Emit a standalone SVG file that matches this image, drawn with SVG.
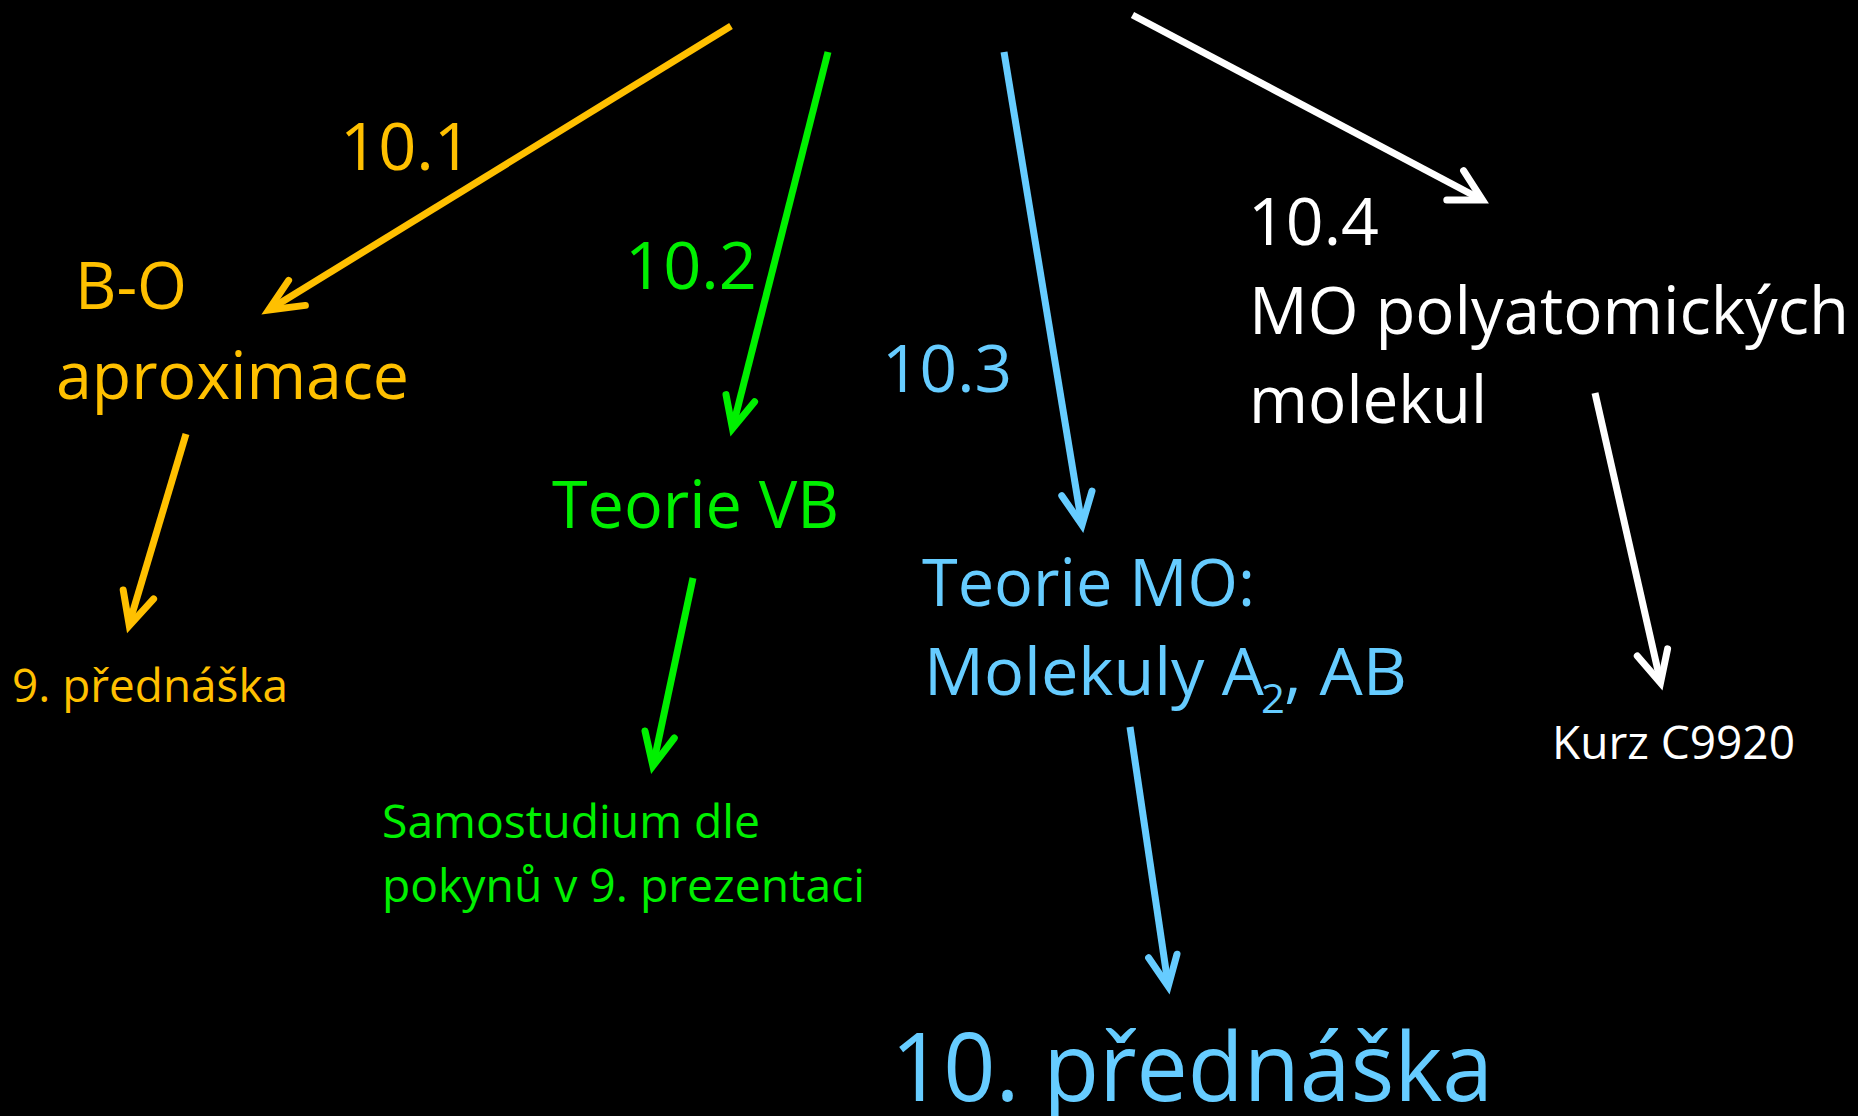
<svg xmlns="http://www.w3.org/2000/svg" width="1858" height="1116" viewBox="0 0 1858 1116">
<style>
text{font-family:"Open Sans","Noto Sans","DejaVu Sans",sans-serif;}
.y{fill:#FFC000}.g{fill:#00F000}.b{fill:#66CCFF}.w{fill:#FFFFFF}
.ly{stroke:#FFC000}.lg{stroke:#00F000}.lb{stroke:#66CCFF}.lw{stroke:#FFFFFF}
.ln{fill:none;stroke-width:7;stroke-linecap:butt}
.hd{fill:none;stroke-width:7;stroke-linecap:round;stroke-linejoin:miter;stroke-miterlimit:10}
</style>
<rect x="0" y="0" width="1858" height="1116" fill="#000000"/>
<g id="connectors">
  <line class="ln ly" x1="731" y1="26" x2="272" y2="308"/>
  <polyline class="hd ly" points="288.6,280.4 268.6,310 305.4,305.4"/>
  <line class="ln ly" x1="186" y1="434" x2="130" y2="621"/>
  <polyline class="hd ly" points="123.2,590 129.3,625.6 153.6,598.9"/>
  <line class="ln lg" x1="828" y1="52" x2="733.5" y2="424"/>
  <polyline class="hd lg" points="726,394.6 732.5,428.6 754.6,401.8"/>
  <line class="ln lg" x1="693" y1="578" x2="653.8" y2="762"/>
  <polyline class="hd lg" points="645,731 652.9,766 674.3,738"/>
  <line class="ln lb" x1="1004" y1="52" x2="1081.3" y2="521"/>
  <polyline class="hd lb" points="1061.8,495.7 1082,525 1092,491"/>
  <line class="ln lb" x1="1130" y1="727" x2="1167.7" y2="982"/>
  <polyline class="hd lb" points="1148.6,957.8 1168.2,986.4 1177,954.2"/>
  <line class="ln lw" x1="1132.5" y1="15" x2="1478.5" y2="198"/>
  <polyline class="hd lw" points="1463.6,170.7 1482.5,200 1446.8,200"/>
  <line class="ln lw" x1="1595" y1="393" x2="1659.6" y2="678"/>
  <polyline class="hd lw" points="1637.3,656 1660.5,682.8 1667.6,648.9"/>
</g>
<g id="label-10-1"><text class="y" x="340" y="170" font-size="66" textLength="132" lengthAdjust="spacingAndGlyphs">10.1</text></g>
<g id="node-bo">
  <text class="y" x="75" y="309" font-size="65" textLength="112" lengthAdjust="spacingAndGlyphs">B-O</text>
  <text class="y" x="56" y="399" font-size="66" textLength="353" lengthAdjust="spacingAndGlyphs">aproximace</text>
</g>
<g id="node-9pred"><text class="y" x="12" y="702" font-size="46" textLength="276" lengthAdjust="spacingAndGlyphs">9. přednáška</text></g>
<g id="label-10-2"><text class="g" x="625" y="289" font-size="66" textLength="132" lengthAdjust="spacingAndGlyphs">10.2</text></g>
<g id="node-vb"><text class="g" x="552" y="528" font-size="65" textLength="287" lengthAdjust="spacingAndGlyphs">Teorie VB</text></g>
<g id="node-samostudium">
  <text class="g" x="382" y="838" font-size="45" textLength="378" lengthAdjust="spacingAndGlyphs">Samostudium dle</text>
  <text class="g" x="382" y="902" font-size="45" textLength="483" lengthAdjust="spacingAndGlyphs">pokynů v 9. prezentaci</text>
</g>
<g id="label-10-3"><text class="b" x="882" y="392" font-size="66" textLength="130" lengthAdjust="spacingAndGlyphs">10.3</text></g>
<g id="node-mo">
  <text class="b" x="922" y="606" font-size="65" textLength="333" lengthAdjust="spacingAndGlyphs">Teorie MO:</text>
  <text class="b" x="924" y="695" font-size="65" textLength="340" lengthAdjust="spacingAndGlyphs">Molekuly A</text>
  <text class="b" x="1261" y="713" font-size="40" textLength="24" lengthAdjust="spacingAndGlyphs">2</text>
  <text class="b" x="1284" y="695" font-size="65" textLength="123" lengthAdjust="spacingAndGlyphs">, AB</text>
</g>
<g id="node-10pred"><text class="b" x="891" y="1101" font-size="95" textLength="602" lengthAdjust="spacingAndGlyphs">10. přednáška</text></g>
<g id="node-polyatomic">
  <text class="w" x="1248" y="245" font-size="66" textLength="131" lengthAdjust="spacingAndGlyphs">10.4</text>
  <text class="w" x="1249" y="334" font-size="66" textLength="600" lengthAdjust="spacingAndGlyphs">MO polyatomických</text>
  <text class="w" x="1249" y="423" font-size="66" textLength="238" lengthAdjust="spacingAndGlyphs">molekul</text>
</g>
<g id="node-kurz"><text class="w" x="1552" y="759" font-size="46" textLength="243" lengthAdjust="spacingAndGlyphs">Kurz C9920</text></g>
</svg>
